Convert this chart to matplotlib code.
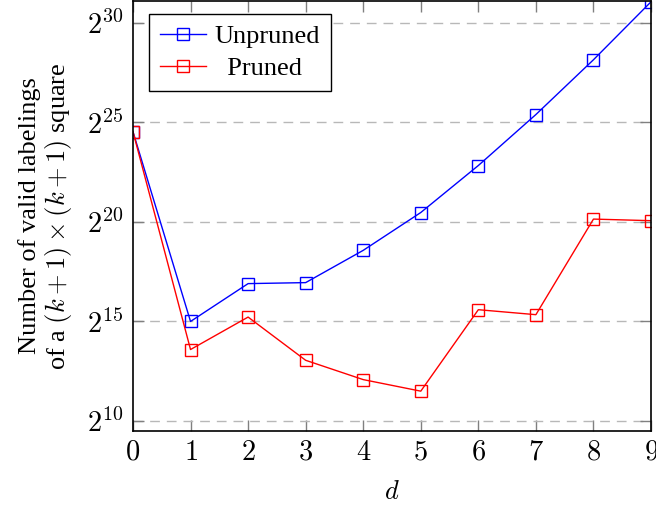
import numpy as np
import matplotlib
matplotlib.use("Agg")
import matplotlib.pyplot as plt

plt.rcParams["font.family"] = "serif"
plt.rcParams["font.serif"] = ["Liberation Serif", "DejaVu Serif"]
plt.rcParams["mathtext.fontset"] = "cm"
plt.rcParams["font.size"] = 19

# d values and log2 of the number of valid labelings
d = [0, 1, 2, 3, 4, 5, 6, 7, 8, 9]
unpruned_exp = [24.53, 15.0, 16.9, 16.95, 18.57, 20.47, 22.83, 25.39, 28.14, 31.05]
pruned_exp = [24.53, 13.59, 15.22, 13.05, 12.08, 11.5, 15.59, 15.34, 20.14, 20.06]
ytick_exp = [10, 15, 20, 25, 30]

fig = plt.figure(figsize=(6.56, 5.08), dpi=100)
ax = fig.add_axes([0.2027, 0.1516, 0.7897, 0.8464])

ax.plot(d, 2.0 ** np.array(unpruned_exp), color="blue", lw=1, marker="s",
        ms=8, mfc="none", mew=1, label="Unpruned")
ax.plot(d, 2.0 ** np.array(pruned_exp), color="red", lw=1, marker="s",
        ms=8, mfc="none", mew=1, label="  Pruned")

ax.set_yscale("log", base=2)
ax.set_xlim(0, 9)
ax.set_ylim(2 ** 9.5, 2 ** 31.09)
ax.set_xticks(d)
ax.set_xticklabels([f"${v}$" for v in d])
ax.set_yticks([2.0 ** e for e in ytick_exp])
ax.set_yticklabels([f"$2^{{{e}}}$" for e in ytick_exp])
ax.yaxis.set_minor_locator(matplotlib.ticker.NullLocator())

ax.grid(axis="y", color="#b8b8b8", lw=1, dashes=(7, 5))
ax.set_axisbelow(True)
ax.tick_params(which="major", direction="in", length=8, width=1,
               color="#808080", top=True, right=True, pad=7, labelsize=20.5)

for s in ax.spines.values():
    s.set_linewidth(1.2)

ax.set_xlabel("$d$", labelpad=11)
ax.set_ylabel("Number of valid labelings\nof a $(k+1)\\times(k+1)$ square",
              labelpad=9, linespacing=1.1)

leg = ax.legend(loc="upper left", bbox_to_anchor=(0.031, 0.97), fancybox=False,
                edgecolor="black", framealpha=1, handlelength=1.75,
                borderpad=0.42, labelspacing=0.32, handletextpad=0.3,
                borderaxespad=0, fontsize=19)
leg.get_frame().set_linewidth(1.0)

fig.savefig("out.png", dpi=100)
